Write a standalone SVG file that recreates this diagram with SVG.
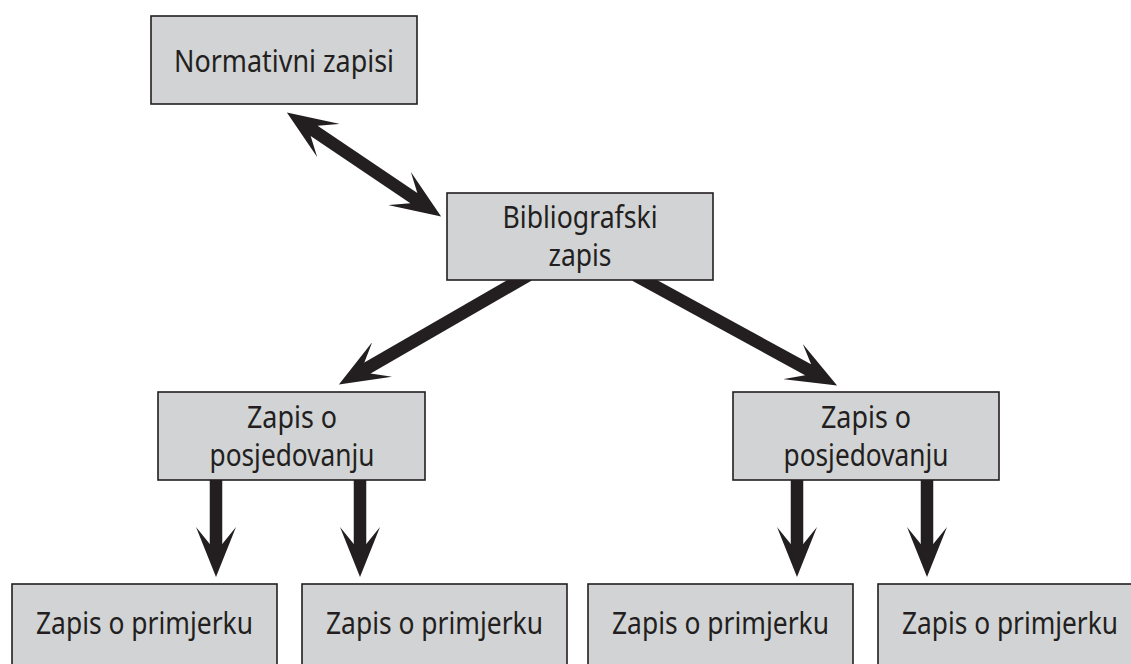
<svg xmlns="http://www.w3.org/2000/svg" width="1131" height="664" viewBox="0 0 1131 664">
<style>
.box{fill:#d1d3d4;stroke:#231f20;stroke-width:1.6}
.lbl{font-family:"Noto Sans","Open Sans","DejaVu Sans",sans-serif;font-size:30px;fill:#231f20;text-anchor:middle}
.arr{stroke:#231f20;stroke-width:12.5;fill:none;marker-end:url(#head)}
.dbl{stroke:#231f20;stroke-width:12.5;fill:none;marker-start:url(#head);marker-end:url(#head)}
</style>
<defs>
<marker id="head" viewBox="0 0 50 40" markerWidth="50" markerHeight="40" markerUnits="userSpaceOnUse" refX="18" refY="20" orient="auto-start-reverse">
<path d="M0,0 L50,20 L0,40 L17,26.25 L17,13.75 Z" fill="#231f20"/>
</marker>
</defs>
<rect width="1131" height="664" fill="#ffffff"/>
<g id="connectors">
<line class="dbl" x1="313.4" y1="130.4" x2="414.6" y2="198.6"/>
<line class="arr" x1="528.7" y1="275" x2="366.6" y2="368.5"/>
<line class="arr" x1="635.2" y1="275.2" x2="809" y2="370.2"/>
<line class="arr" x1="216" y1="478" x2="216" y2="545"/>
<line class="arr" x1="360" y1="478" x2="360" y2="545"/>
<line class="arr" x1="797" y1="478" x2="797" y2="545"/>
<line class="arr" x1="927" y1="478" x2="927" y2="545"/>
</g>
<g id="normativni">
<rect class="box" x="151" y="16" width="266" height="88"/>
<text class="lbl" x="284" y="72" textLength="220" lengthAdjust="spacingAndGlyphs">Normativni zapisi</text>
</g>
<g id="bibliografski">
<rect class="box" x="447" y="193" width="266" height="87"/>
<text class="lbl" x="580" y="228" textLength="155" lengthAdjust="spacingAndGlyphs">Bibliografski</text>
<text class="lbl" x="580" y="266" textLength="63" lengthAdjust="spacingAndGlyphs">zapis</text>
</g>
<g id="posjedovanje-1">
<rect class="box" x="158" y="392" width="267" height="88"/>
<text class="lbl" x="292" y="428" textLength="90" lengthAdjust="spacingAndGlyphs">Zapis o</text>
<text class="lbl" x="292" y="466" textLength="165" lengthAdjust="spacingAndGlyphs">posjedovanju</text>
</g>
<g id="posjedovanje-2">
<rect class="box" x="733" y="392" width="266" height="88"/>
<text class="lbl" x="866" y="428" textLength="90" lengthAdjust="spacingAndGlyphs">Zapis o</text>
<text class="lbl" x="866" y="466" textLength="165" lengthAdjust="spacingAndGlyphs">posjedovanju</text>
</g>
<g id="primjerak-1">
<rect class="box" x="12" y="584" width="265" height="88"/>
<text class="lbl" x="144.5" y="634" textLength="217" lengthAdjust="spacingAndGlyphs">Zapis o primjerku</text>
</g>
<g id="primjerak-2">
<rect class="box" x="302" y="584" width="265" height="88"/>
<text class="lbl" x="434.5" y="634" textLength="217" lengthAdjust="spacingAndGlyphs">Zapis o primjerku</text>
</g>
<g id="primjerak-3">
<rect class="box" x="588" y="584" width="265" height="88"/>
<text class="lbl" x="720.5" y="634" textLength="217" lengthAdjust="spacingAndGlyphs">Zapis o primjerku</text>
</g>
<g id="primjerak-4">
<rect class="box" x="878" y="584" width="265" height="88"/>
<text class="lbl" x="1010" y="634" textLength="216" lengthAdjust="spacingAndGlyphs">Zapis o primjerku</text>
</g>
</svg>
